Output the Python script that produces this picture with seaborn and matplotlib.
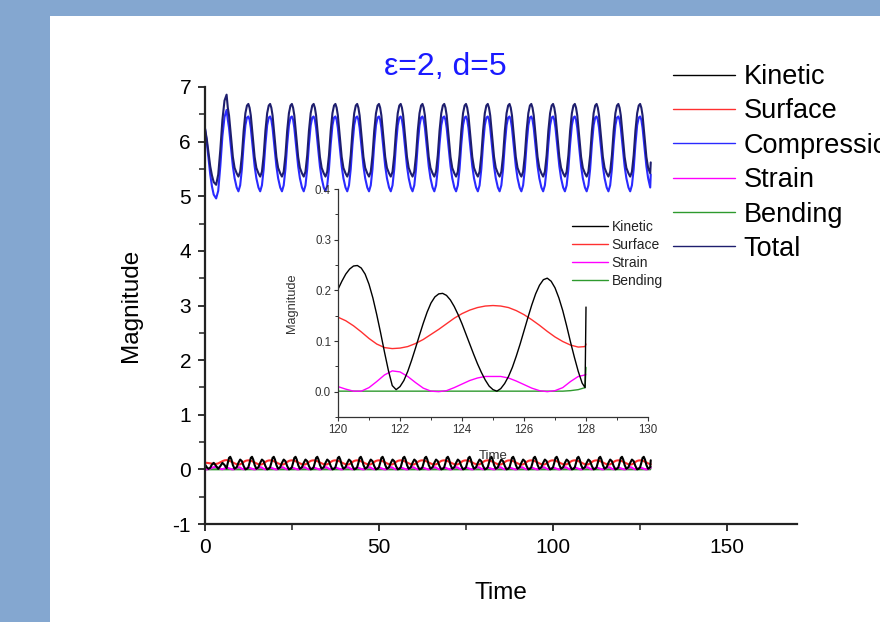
"""Energy terms of an oscillating drop (eps=2, d=5), with a close-up of the last cycles."""

import matplotlib
matplotlib.use("Agg")
import matplotlib.pyplot as plt
from matplotlib.lines import Line2D
from matplotlib.patches import Rectangle
from matplotlib.ticker import MultipleLocator
import pandas as pd
import seaborn as sns

# ---- main panel -------------------------------------------------------------
# opening stretch, t = 0 up to the first peak
HEAD_TIME = [0.0, 0.5, 1.0, 1.5, 2.0, 2.5, 3.2, 3.8, 4.4, 5.0, 5.6, 6.2]
HEAD_TOTAL = [6.24, 6.05, 5.80, 5.55, 5.38, 5.26, 5.21, 5.40, 5.85, 6.40, 6.75, 6.86]
HEAD_COMPRESSION = [6.24, 6.00, 5.70, 5.40, 5.18, 5.03, 4.96, 5.10, 5.55, 6.10, 6.45, 6.58]
HEAD_KINETIC = [0.09, 0.04, 0.01, 0.03, 0.09, 0.12, 0.06, 0.01, 0.06, 0.12, 0.08, 0.02]
HEAD_SURFACE = [0.12, 0.12, 0.115, 0.11, 0.105, 0.10, 0.10, 0.11, 0.13, 0.15, 0.165, 0.17]
HEAD_STRAIN = [0.0, 0.0, 0.005, 0.015, 0.03, 0.04, 0.045, 0.03, 0.01, 0.002, 0.015, 0.03]
HEAD_BENDING = [0.001] * 12

# one oscillation read after a peak (time after the peak), the run repeats it
PERIOD = 6.25
N_CYCLES = 20
CYCLE_OFFSET = [0.35, 0.7, 1.05, 1.4, 1.8, 2.3, 2.9, 3.4, 3.9, 4.4, 4.9, 5.4, 5.85, 6.25]
CYCLE_TOTAL = [6.62, 6.48, 6.25, 6.00, 5.72, 5.52, 5.42, 5.36, 5.45, 5.75, 6.20, 6.52, 6.66, 6.69]
CYCLE_COMPRESSION = [6.40, 6.25, 6.02, 5.80, 5.55, 5.33, 5.16, 5.09, 5.20, 5.50, 5.95, 6.30, 6.44, 6.46]
CYCLE_KINETIC = [0.12, 0.21, 0.23, 0.18, 0.08, 0.01, 0.04, 0.12, 0.18, 0.15, 0.06, 0.0, 0.01, 0.04]
CYCLE_SURFACE = [0.164, 0.158, 0.150, 0.140, 0.127, 0.110, 0.095, 0.088, 0.092, 0.110, 0.135, 0.155, 0.163, 0.165]
CYCLE_STRAIN = [0.028, 0.020, 0.010, 0.003, 0.0, 0.005, 0.030, 0.041, 0.032, 0.010, 0.001, 0.008, 0.022, 0.030]
CYCLE_BENDING = [0.001] * 14

# last sample of the run (t = 128) where every term jumps
TAIL_TIME = 128.0
TAIL = {"Total": 5.62, "Compression": 5.40, "Kinetic": 0.167,
        "Surface": 0.094, "Strain": 0.034, "Bending": 0.048}

# ---- inset: last 8 time units ----------------------------------------------
INSET_TIME = [120.0, 120.25, 120.5, 120.75, 121.0, 121.25, 121.5, 121.75,
              122.0, 122.25, 122.5, 122.75, 123.0, 123.25, 123.5, 123.75,
              124.0, 124.25, 124.5, 124.75, 125.0, 125.25, 125.5, 125.75,
              126.0, 126.25, 126.5, 126.75, 127.0, 127.25, 127.5, 127.75,
              127.97, 128.0]
INSET_SURFACE = [0.147, 0.140, 0.130, 0.118, 0.105, 0.094, 0.087, 0.085,
                 0.086, 0.089, 0.095, 0.103, 0.113, 0.123, 0.134, 0.145,
                 0.154, 0.161, 0.166, 0.169, 0.170, 0.169, 0.166, 0.160,
                 0.152, 0.142, 0.131, 0.119, 0.108, 0.099, 0.092, 0.088,
                 0.089, 0.094]
INSET_STRAIN = [0.010, 0.005, 0.001, 0.001, 0.008, 0.020, 0.033, 0.041,
                0.039, 0.030, 0.018, 0.007, 0.001, 0.000, 0.002, 0.008,
                0.015, 0.022, 0.027, 0.030, 0.030, 0.030, 0.027, 0.021,
                0.014, 0.007, 0.002, 0.000, 0.002, 0.008, 0.020, 0.030,
                0.033, 0.034]
INSET_BENDING = [0.001, 0.001, 0.001, 0.001, 0.001, 0.001, 0.001, 0.001,
                 0.001, 0.001, 0.001, 0.001, 0.001, 0.001, 0.001, 0.001,
                 0.001, 0.001, 0.001, 0.001, 0.001, 0.001, 0.001, 0.001,
                 0.001, 0.001, 0.001, 0.001, 0.001, 0.001, 0.002, 0.004,
                 0.008, 0.048]

# kinetic term moves faster, so it is read on a finer time grid
KINETIC_TIME = [120.0, 120.125, 120.25, 120.375, 120.5, 120.625, 120.75, 120.875,
                121.0, 121.125, 121.25, 121.375, 121.5, 121.625, 121.75, 121.875,
                122.0, 122.125, 122.25, 122.375, 122.5, 122.625, 122.75, 122.875,
                123.0, 123.125, 123.25, 123.375, 123.5, 123.625, 123.75, 123.875,
                124.0, 124.125, 124.25, 124.375, 124.5, 124.625, 124.75, 124.875,
                125.0, 125.125, 125.25, 125.375, 125.5, 125.625, 125.75, 125.875,
                126.0, 126.125, 126.25, 126.375, 126.5, 126.625, 126.75, 126.875,
                127.0, 127.125, 127.25, 127.375, 127.5, 127.625, 127.75, 127.875,
                127.97, 128.0]
INSET_KINETIC = [0.202, 0.218, 0.232, 0.242, 0.248, 0.249, 0.244, 0.232,
                 0.212, 0.185, 0.152, 0.116, 0.078, 0.042, 0.012, 0.004,
                 0.010, 0.022, 0.040, 0.062, 0.086, 0.111, 0.135, 0.157,
                 0.175, 0.187, 0.193, 0.194, 0.190, 0.181, 0.168, 0.152,
                 0.134, 0.114, 0.094, 0.074, 0.055, 0.038, 0.023, 0.011,
                 0.004, 0.001, 0.006, 0.016, 0.030, 0.048, 0.070, 0.094,
                 0.120, 0.146, 0.171, 0.193, 0.210, 0.221, 0.224, 0.218,
                 0.205, 0.185, 0.160, 0.130, 0.098, 0.068, 0.040, 0.017,
                 0.008, 0.167]

LEGEND_ORDER = ["Kinetic", "Surface", "Compression", "Strain", "Bending", "Total"]
DRAW_ORDER = ["Bending", "Strain", "Surface", "Kinetic", "Compression", "Total"]
INSET_ORDER = ["Kinetic", "Surface", "Strain", "Bending"]
COLORS = {
    "Kinetic": "#000000",
    "Surface": "#ff3030",
    "Compression": "#2a2aff",
    "Strain": "#ff00ff",
    "Bending": "#2e9a2e",
    "Total": "#1e1e6e",
}


def main_series(head, cycle, tail):
    times = list(HEAD_TIME)
    values = list(head)
    for k in range(N_CYCLES):
        start = HEAD_TIME[-1] + k * PERIOD
        for off, val in zip(CYCLE_OFFSET, cycle):
            if start + off < TAIL_TIME - 0.1:
                times.append(start + off)
                values.append(val)
    times.append(TAIL_TIME)
    values.append(tail)
    return times, values


def build_main() -> pd.DataFrame:
    parts = {
        "Total": (HEAD_TOTAL, CYCLE_TOTAL),
        "Compression": (HEAD_COMPRESSION, CYCLE_COMPRESSION),
        "Kinetic": (HEAD_KINETIC, CYCLE_KINETIC),
        "Surface": (HEAD_SURFACE, CYCLE_SURFACE),
        "Strain": (HEAD_STRAIN, CYCLE_STRAIN),
        "Bending": (HEAD_BENDING, CYCLE_BENDING),
    }
    frames = []
    for name, (head, cycle) in parts.items():
        t, v = main_series(head, cycle, TAIL[name])
        frames.append(pd.DataFrame({"Time": t, "Magnitude": v, "term": name}))
    return pd.concat(frames, ignore_index=True)


def build_inset() -> pd.DataFrame:
    frames = [pd.DataFrame({"Time": KINETIC_TIME, "Magnitude": INSET_KINETIC, "term": "Kinetic"})]
    cols = {"Surface": INSET_SURFACE, "Strain": INSET_STRAIN, "Bending": INSET_BENDING}
    frames += [pd.DataFrame({"Time": INSET_TIME, "Magnitude": v, "term": k}) for k, v in cols.items()]
    return pd.concat(frames, ignore_index=True)


def main() -> None:
    sns.set_style("ticks")
    plt.rcParams["font.family"] = ["Liberation Sans", "DejaVu Sans"]
    plt.rcParams["axes.unicode_minus"] = False
    plt.rcParams["text.color"] = "black"
    plt.rcParams["axes.labelcolor"] = "black"
    plt.rcParams["xtick.labelcolor"] = "black"
    plt.rcParams["ytick.labelcolor"] = "black"

    fig = plt.figure(figsize=(8.8, 6.22), dpi=100)
    fig.patch.set_facecolor("#84a7d0")
    fig.patches.append(Rectangle((50 / 880, 0), 1, 1 - 16 / 622, transform=fig.transFigure,
                                 facecolor="white", edgecolor="none", zorder=-5))

    # main axes
    ax = fig.add_axes([205 / 880, 98 / 622, 592 / 880, 437 / 622])
    ax.set_facecolor("none")
    data = build_main()
    sns.lineplot(data=data, x="Time", y="Magnitude", hue="term", hue_order=DRAW_ORDER,
                 palette=COLORS, estimator=None, sort=False, legend=False, linewidth=1.5, ax=ax)
    ax.set_xlim(0, 170)
    ax.set_ylim(-1, 7)
    ax.xaxis.set_major_locator(MultipleLocator(50))
    ax.xaxis.set_minor_locator(MultipleLocator(25))
    ax.yaxis.set_major_locator(MultipleLocator(1))
    ax.yaxis.set_minor_locator(MultipleLocator(0.5))
    ax.tick_params(which="major", direction="out", length=5, width=1.3, labelsize=15, pad=5, color="#222222")
    ax.tick_params(which="minor", direction="out", length=4, width=1.1, color="#222222")
    for side in ("left", "bottom"):
        ax.spines[side].set_linewidth(1.6)
        ax.spines[side].set_color("#222222")
    sns.despine(ax=ax)
    ax.set_xlabel("Time", fontsize=17.5, labelpad=18)
    ax.set_ylabel("Magnitude", fontsize=17.5, labelpad=22)

    fig.text(445 / 880, 1 - 67 / 622, "\u03b5=2, d=5", ha="center", va="center",
             fontsize=23, color="#1a1aff")

    handles = [Line2D([], [], color=COLORS[k], linewidth=1.0) for k in LEGEND_ORDER]
    fig.legend(handles, LEGEND_ORDER, loc="upper left", bbox_to_anchor=(673 / 880, 1 - 64 / 622),
               frameon=False, fontsize=19.5, handlelength=2.3, handletextpad=0.3,
               labelspacing=0.31, borderpad=0, borderaxespad=0)

    # inset
    axin = fig.add_axes([338 / 880, 205 / 622, 310 / 880, 228 / 622])
    axin.set_facecolor("none")
    inset = build_inset()
    sns.lineplot(data=inset, x="Time", y="Magnitude", hue="term", hue_order=INSET_ORDER[::-1],
                 palette=COLORS, estimator=None, sort=False, legend=False, linewidth=1.0, ax=axin)
    axin.set_xlim(120, 130)
    axin.set_ylim(-0.05, 0.4)
    axin.xaxis.set_major_locator(MultipleLocator(2))
    axin.xaxis.set_minor_locator(MultipleLocator(1))
    axin.yaxis.set_major_locator(MultipleLocator(0.1))
    axin.yaxis.set_minor_locator(MultipleLocator(0.05))
    axin.tick_params(which="major", direction="out", length=3, width=0.8, labelsize=8.3, pad=2,
                     color="#333333", labelcolor="#333333")
    axin.tick_params(which="minor", direction="out", length=2, width=0.7, color="#333333")
    for side in ("left", "bottom"):
        axin.spines[side].set_linewidth(0.9)
        axin.spines[side].set_color("#333333")
    sns.despine(ax=axin)
    axin.set_xlabel("Time", fontsize=9.5, labelpad=10, color="#333333")
    axin.set_ylabel("Magnitude", fontsize=9.2, labelpad=12, color="#333333")

    in_handles = [Line2D([], [], color=COLORS[k], linewidth=1.0) for k in INSET_ORDER]
    axin.legend(in_handles, INSET_ORDER, loc="upper left",
                bbox_to_anchor=(572 / 880, 1 - 220 / 622), bbox_transform=fig.transFigure,
                frameon=False, fontsize=10, handlelength=2.6, handletextpad=0.25,
                labelspacing=0.28, borderpad=0, borderaxespad=0, labelcolor="#222222")

    fig.savefig("out.png", dpi=100, facecolor=fig.get_facecolor())
    plt.close(fig)


if __name__ == "__main__":
    main()
